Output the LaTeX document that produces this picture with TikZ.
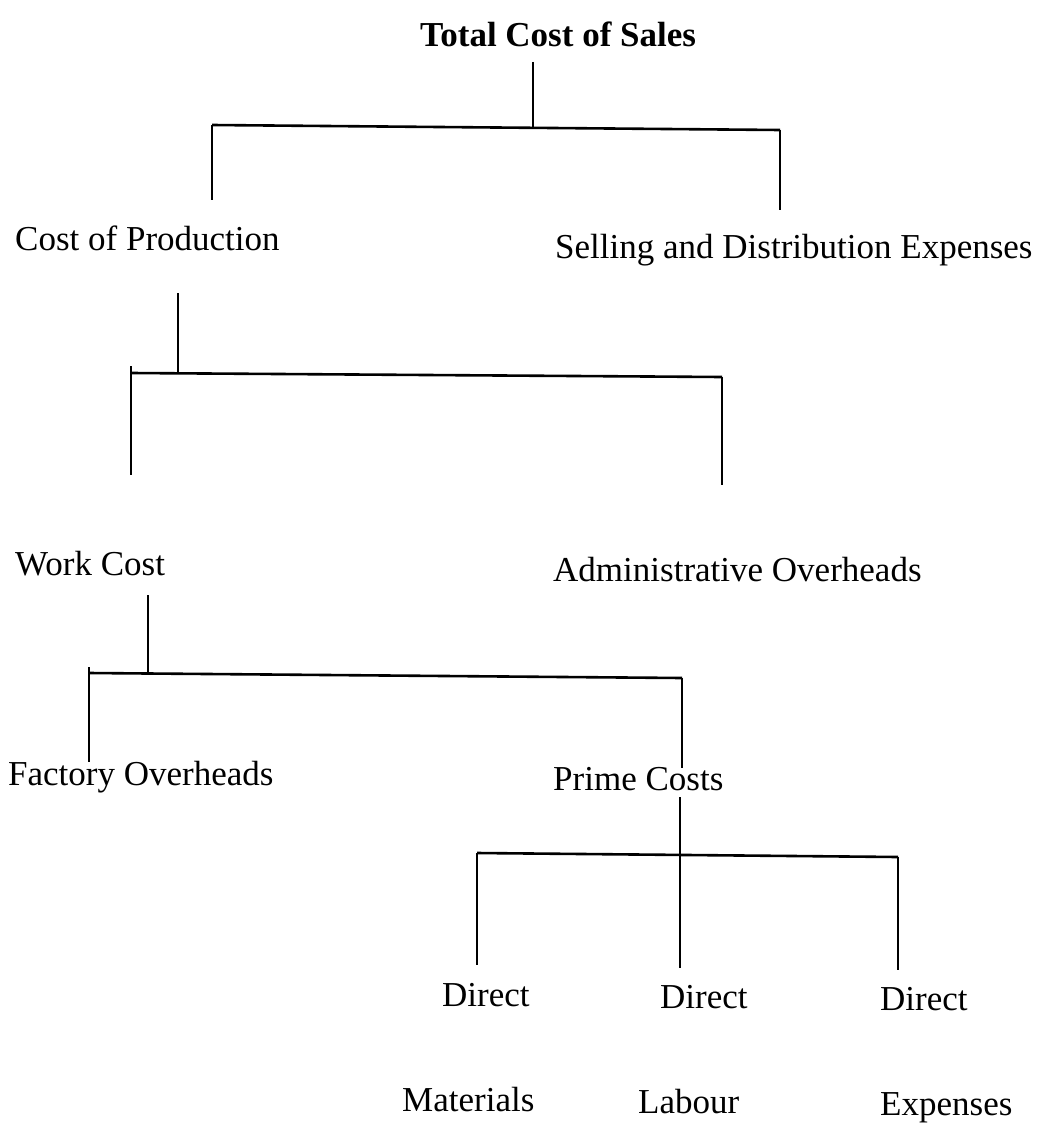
\documentclass[tikz,border=0pt]{standalone}
\usepackage{fontspec}
\setmainfont{Liberation Serif}
\tikzset{
    cost/.style={
           inner sep=0pt,
           anchor=base west,
           font=\fontsize{35}{42}\selectfont
           },
    branch/.style={line width=1.5pt},
    bar/.style={line width=2.6pt},
}
\begin{document}
\begin{tikzpicture}[x=1pt,y=-1pt]
\useasboundingbox (0,0) rectangle (1049,1124);

% level 0
\node[cost, font=\fontsize{35}{42}\selectfont\bfseries] (TOTAL) at (420,47) {Total Cost of Sales};
\node[cost] (PROD) at (15,250) {Cost of Production};
\node[cost] (SELL) at (555,258) {Selling and Distribution Expenses};

\coordinate (total-top) at (533,62);
\coordinate (total-mid) at (533,127);
\coordinate (total-l) at (212,125);
\coordinate (total-r) at (780,130);
\coordinate (prod-in) at (212,200);
\coordinate (sell-in) at (780,210);

\draw[branch] (total-top) -- (total-mid);
\draw[bar] (total-l) -- (total-r);
\draw[branch] (total-l) -- (prod-in);
\draw[branch] (total-r) -- (sell-in);

% level 1
\node[cost] (WORK) at (15,575) {Work Cost};
\node[cost] (ADMIN) at (553,581) {Administrative Overheads};

\coordinate (prod-top) at (178,293);
\coordinate (prod-mid) at (178,374);
\coordinate (prod-tick) at (131,366);
\coordinate (prod-l) at (131,373);
\coordinate (prod-r) at (722,377);
\coordinate (work-in) at (131,475);
\coordinate (admin-in) at (722,485);

\draw[branch] (prod-top) -- (prod-mid);
\draw[bar] (prod-l) -- (prod-r);
\draw[branch] (prod-tick) -- (work-in);
\draw[branch] (prod-r) -- (admin-in);

% level 2
\node[cost] (FACT) at (8,785) {Factory Overheads};
\node[cost] (PRIME) at (553,790) {Prime Costs};

\coordinate (work-top) at (148,595);
\coordinate (work-mid) at (148,674);
\coordinate (work-tick) at (89,667);
\coordinate (work-l) at (89,673);
\coordinate (work-r) at (682,678);
\coordinate (fact-in) at (89,762);
\coordinate (prime-in) at (682,768);

\draw[branch] (work-top) -- (work-mid);
\draw[bar] (work-l) -- (work-r);
\draw[branch] (work-tick) -- (fact-in);
\draw[branch] (work-r) -- (prime-in);

% level 3
\node[cost] (DM) at (442,1006) {Direct};
\node[cost] (DL) at (660,1008) {Direct};
\node[cost] (DE) at (880,1010) {Direct};
\node[cost] (MAT) at (402,1111) {Materials};
\node[cost] (LAB) at (638,1113) {Labour};
\node[cost] (EXP) at (880,1115) {Expenses};

\coordinate (prime-top) at (680,797);
\coordinate (prime-l) at (477,853);
\coordinate (prime-r) at (898,857);
\coordinate (dm-in) at (477,965);
\coordinate (dl-in) at (680,968);
\coordinate (de-in) at (898,970);

\draw[bar] (prime-l) -- (prime-r);
\draw[branch] (prime-top) -- (dl-in);
\draw[branch] (prime-l) -- (dm-in);
\draw[branch] (prime-r) -- (de-in);

\end{tikzpicture}
\end{document}
